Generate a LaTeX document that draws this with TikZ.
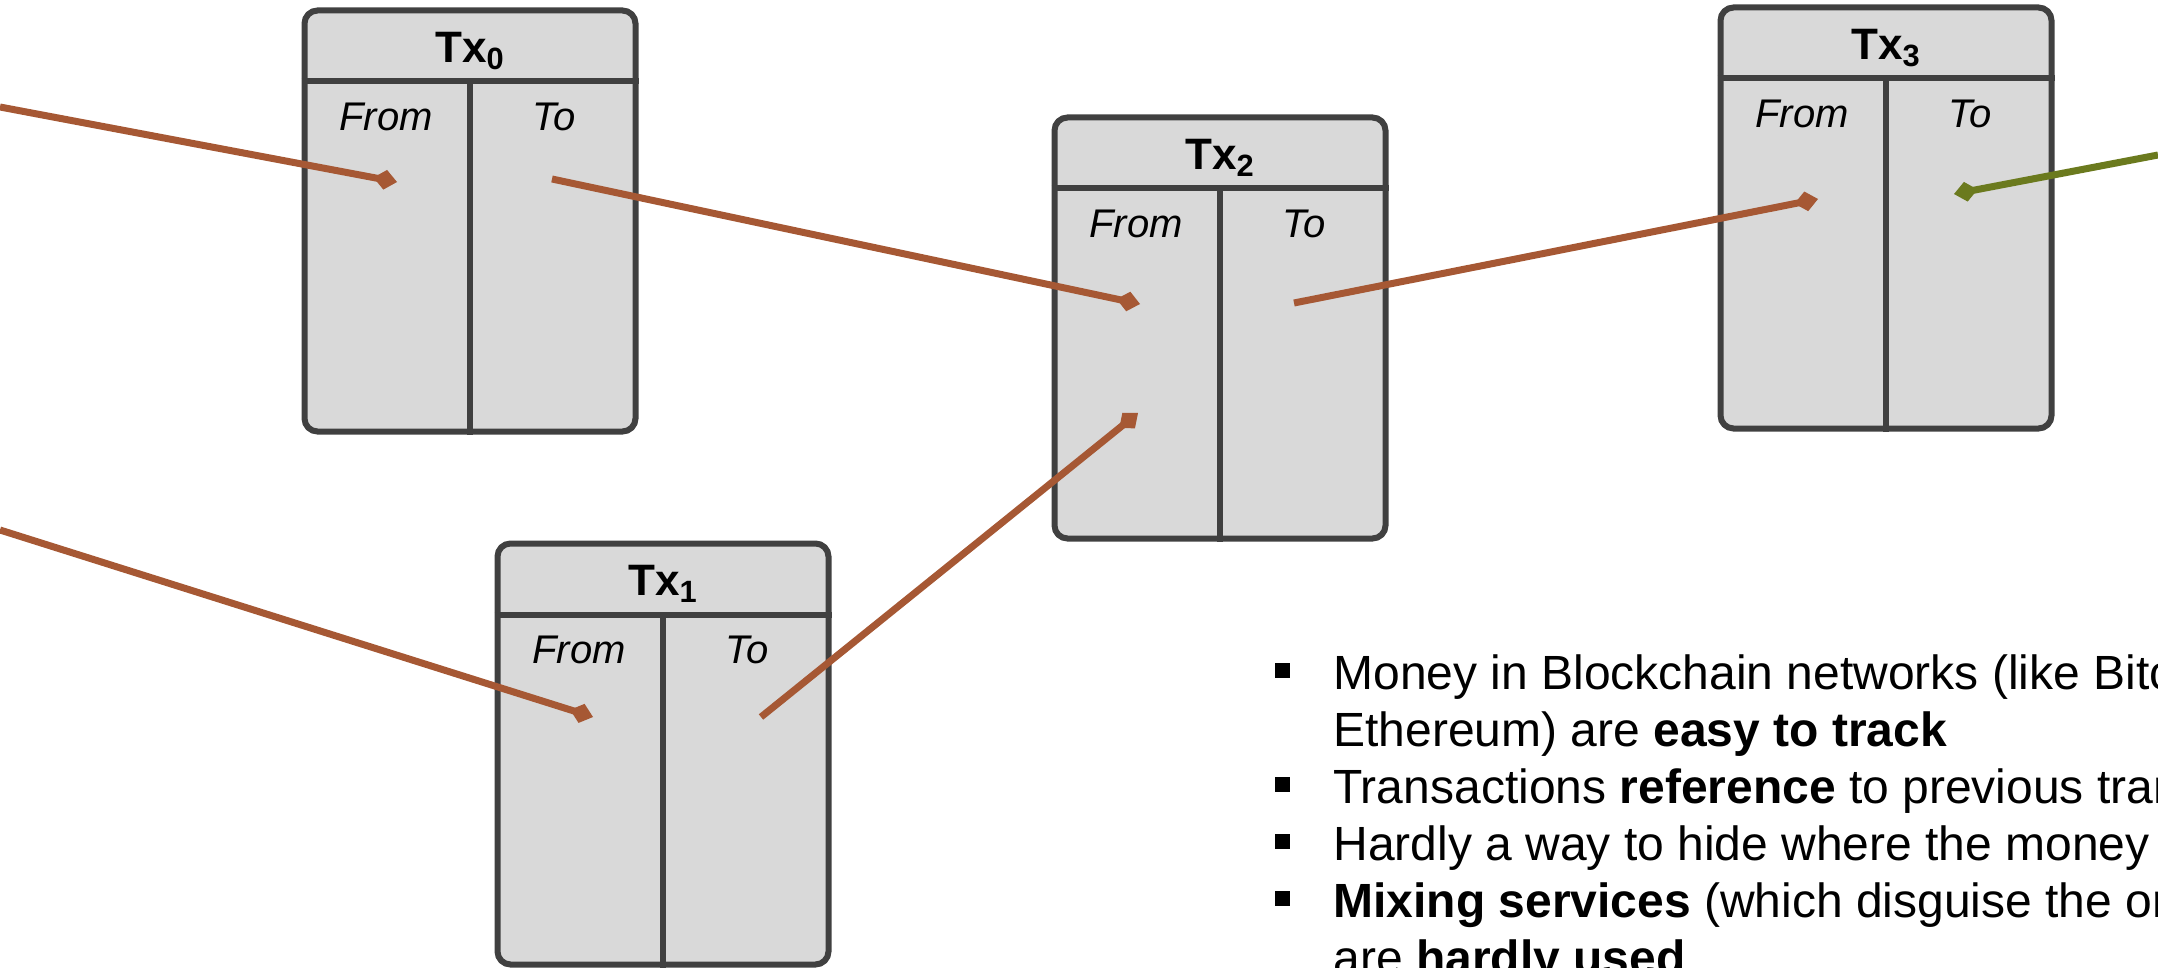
\documentclass[tikz,border=0pt]{standalone}
\usepackage{fontspec}
\setmainfont{Liberation Sans}
\usepackage{xcolor}
\usepackage{tikz}
\usetikzlibrary{arrows.meta, positioning}

\definecolor{boxgray}{RGB}{217,217,217}
\definecolor{boxedge}{RGB}{64,64,64}
\definecolor{flowbrown}{RGB}{166,88,52}
\definecolor{flowgreen}{RGB}{107,122,30}

\tikzset{
    txbox/.style={draw=boxedge, fill=boxgray, line width=3pt, rounded corners=6.5pt,
        minimum width=165.5pt, minimum height=210.5pt, inner sep=0pt},
    txline/.style={draw=boxedge, line width=3pt},
    txtitle/.style={font=\fontsize{22}{26}\selectfont\bfseries, anchor=base, inner sep=0pt},
    txcol/.style={font=\fontsize{20}{24}\selectfont\itshape, anchor=base, inner sep=0pt},
    txflow/.style={line width=3.5pt, draw=flowbrown, -{Diamond[length=12pt,width=10pt]}},
    txnote/.style={font=\fontsize{24}{28.5}\selectfont, anchor=base west, inner sep=0pt},
    bulletbox/.style={fill=black, minimum size=7.5pt, inner sep=0pt},
}

\begin{document}
\begin{tikzpicture}[x=0.5pt, y=-0.5pt]
    \useasboundingbox (0,0) rectangle (2158,968);
    \clip (0,0) rectangle (2158,968);

    \foreach \i/\cx/\cy in {0/470/221, 1/663/754, 2/1220/328, 3/1886/218} {
        \node (tx\i) [txbox] at (\cx,\cy) {};
        \draw[txline] ([yshift=-37pt]tx\i.north west) -- ([yshift=-37pt]tx\i.north east);
        \draw[txline] ([yshift=-37pt]tx\i.north) -- (tx\i.south);
        \node (tx\i-title) [txtitle] at ([yshift=-27.5pt]tx\i.north) {Tx\textsubscript{\i}};
        \node (tx\i-from) [txcol] at ([xshift=-42pt, yshift=-61.5pt]tx\i.north) {From};
        \node (tx\i-to) [txcol] at ([xshift=42pt, yshift=-61.5pt]tx\i.north) {To};
    }

    \coordinate (west0) at (0,107);
    \coordinate (west1) at (0,530);
    \coordinate (east3) at (2158,155);
    \coordinate (in0) at (397,182);
    \coordinate (out0) at (552,179);
    \coordinate (in1) at (593,717);
    \coordinate (out1) at (761,717);
    \coordinate (in2a) at (1140,304);
    \coordinate (in2b) at (1138,413);
    \coordinate (out2) at (1294,303);
    \coordinate (in3) at (1818,199);
    \coordinate (out3) at (1954,194);

    \draw[txflow] (west0) -- (in0);
    \draw[txflow] (west1) -- (in1);
    \draw[txflow] (out0) -- (in2a);
    \draw[txflow] (out1) -- (in2b);
    \draw[txflow] (out2) -- (in3);
    \draw[txflow, draw=flowgreen] (east3) -- (out3);

    \node (l1) [txnote] at (1333,689) {Money in Blockchain networks (like Bitc};
    \node (l2) [txnote] at (1333,746) {Ethereum) are \textbf{easy to track}};
    \node (l3) [txnote] at (1333,803) {Transactions \textbf{reference} to previous tran};
    \node (l4) [txnote] at (1333,860) {Hardly a way to hide where the money};
    \node (l5) [txnote] at (1333,917) {\textbf{Mixing services} (which disguise the or};
    \node (l6) [txnote] at (1333,974) {are \textbf{hardly used}};
    \node (b1) [bulletbox] at (1282,670) {};
    \node (b3) [bulletbox] at (1282,784) {};
    \node (b4) [bulletbox] at (1282,841) {};
    \node (b5) [bulletbox] at (1282,898) {};
\end{tikzpicture}
\end{document}
